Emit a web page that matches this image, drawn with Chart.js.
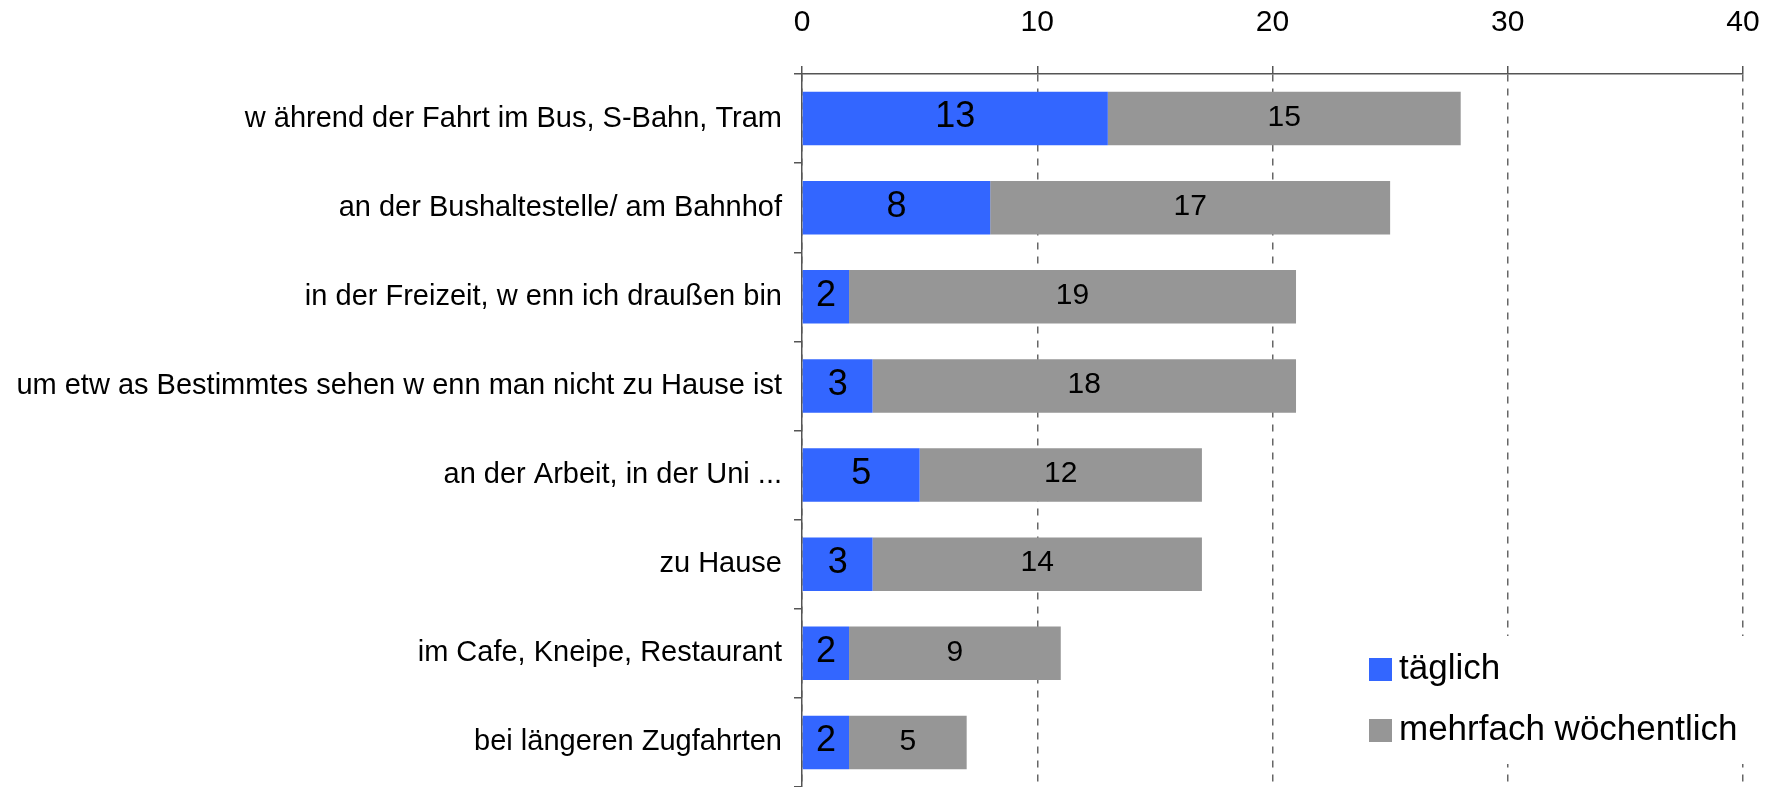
<!DOCTYPE html>
<html>
<head>
<meta charset="utf-8">
<script src="https://cdn.jsdelivr.net/npm/chart.js@4/dist/chart.umd.min.js"></script>
<style>
  html, body { margin: 0; padding: 0; background: #fff; }
  #wrap { width: 1774px; height: 787px; position: relative; }
</style>
</head>
<body>
<div id="wrap"><canvas id="myChart"></canvas></div>
<script>
const categories = [
    "w ährend der Fahrt im Bus, S-Bahn, Tram",
    "an der Bushaltestelle/ am Bahnhof",
    "in der Freizeit, w enn ich draußen bin",
    "um etw as Bestimmtes sehen w enn man nicht zu Hause ist",
    "an der Arbeit, in der Uni ...",
    "zu Hause",
    "im Cafe, Kneipe, Restaurant",
    "bei längeren Zugfahrten"
];
const taeglich = [13, 8, 2, 3, 5, 3, 2, 2];
const mehrfach = [15, 17, 19, 18, 12, 14, 9, 5];
const seriesNames = ["täglich", "mehrfach wöchentlich"];
const xTicks = [0, 10, 20, 30, 40];

const FONT = "'Liberation Sans', Arial, sans-serif";
const BLUE = '#3366FF';
const GREY = '#969696';

// labels in the middle of each bar segment
const barLabels = {
    id: 'barLabels',
    afterDatasetsDraw(chart) {
        const c = chart.ctx;
        c.save();
        c.fillStyle = '#000';
        c.textAlign = 'center';
        c.textBaseline = 'middle';
        chart.data.datasets.forEach((ds, i) => {
            const meta = chart.getDatasetMeta(i);
            c.font = (i === 0 ? '36px ' : '30px ') + FONT;
            meta.data.forEach((bar, j) => {
                const p = bar.getProps(['x', 'y', 'base'], true);
                c.fillText(String(ds.data[j]), (p.x + p.base) / 2, p.y - 1);
            });
        });
        c.restore();
    }
};

// legend box sitting inside the plot, bottom right
const boxLegend = {
    id: 'boxLegend',
    afterDraw(chart) {
        const c = chart.ctx;
        c.save();
        c.fillStyle = '#fff';
        c.fillRect(1355, 636, 419, 128);
        c.font = '35px ' + FONT;
        c.textBaseline = 'alphabetic';
        c.textAlign = 'left';
        chart.data.datasets.forEach((ds, i) => {
            const top = 658 + i * 61;
            c.fillStyle = ds.backgroundColor;
            c.fillRect(1369, top, 23, 23);
            c.fillStyle = '#000';
            c.fillText(ds.label, 1399, top + 21);
        });
        c.restore();
    }
};

const ctx = document.getElementById('myChart').getContext('2d');
const chart = new Chart(ctx, {
    type: 'bar',
    data: {
        labels: categories,
        datasets: [
            { label: seriesNames[0], data: taeglich, backgroundColor: BLUE, categoryPercentage: 1, barPercentage: 0.6 },
            { label: seriesNames[1], data: mehrfach, backgroundColor: GREY, categoryPercentage: 1, barPercentage: 0.6 }
        ]
    },
    options: {
        indexAxis: 'y',
        responsive: true,
        maintainAspectRatio: false,
        animation: false,
        layout: { padding: { left: 0, right: 31, top: 0, bottom: 0 } },
        plugins: {
            legend: { display: false },
            tooltip: { enabled: false }
        },
        scales: {
            x: {
                position: 'top',
                stacked: true,
                min: 0,
                max: 40,
                afterBuildTicks: (scale) => { scale.ticks = xTicks.map(v => ({ value: v })); },
                afterFit: (scale) => {
                    scale.height = 74;
                    scale.paddingLeft = 0;
                    scale.paddingRight = 0;
                },
                ticks: { color: '#000', font: { family: FONT, size: 30 }, padding: 25 },
                grid: { color: '#666', lineWidth: 1.5, tickLength: 8, tickColor: '#555' },
                border: { color: '#555', width: 1.5, dash: [7, 7] }
            },
            y: {
                stacked: true,
                afterFit: (scale) => {
                    scale.width = 802;
                    scale.paddingTop = 0;
                    scale.paddingBottom = 0;
                },
                ticks: { color: '#000', font: { family: FONT, size: 29 }, padding: 12 },
                grid: { drawOnChartArea: false, tickLength: 8, color: '#555', lineWidth: 1.5 },
                border: { color: '#555', width: 1.5 }
            }
        }
    },
    plugins: [barLabels, boxLegend]
});
</script>
</body>
</html>
